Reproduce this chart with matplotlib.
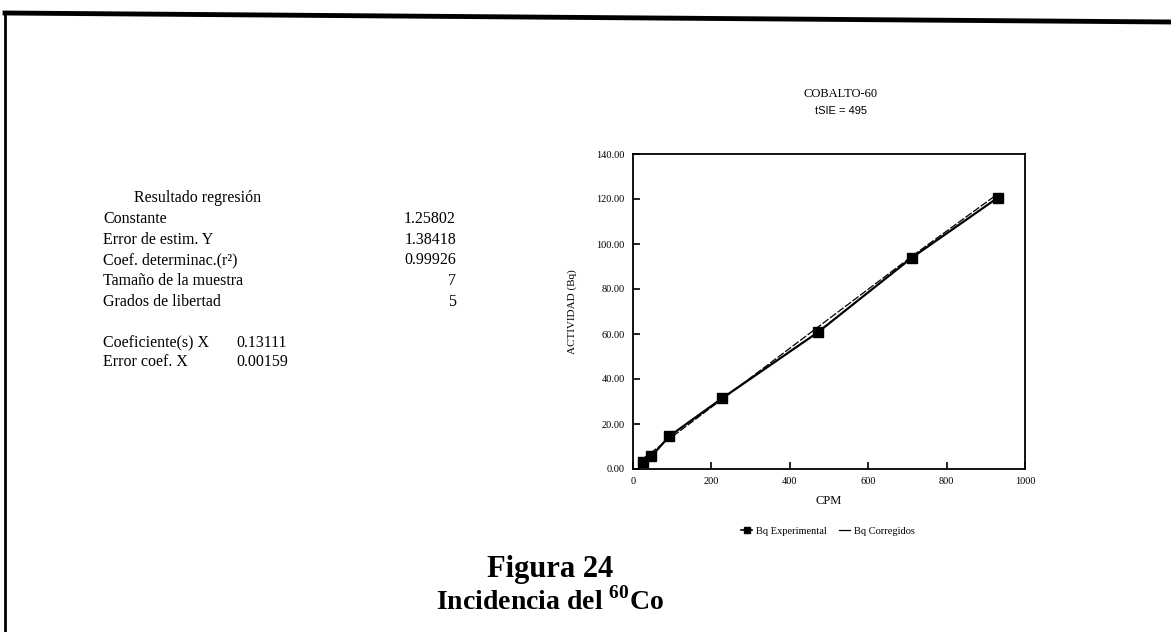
import matplotlib
matplotlib.use("Agg")
import matplotlib.pyplot as plt
from matplotlib.lines import Line2D

plt.rcParams["mathtext.fontset"] = "custom"
plt.rcParams["mathtext.rm"] = "Liberation Serif"
plt.rcParams["mathtext.bf"] = "Liberation Serif:bold"

# ---- data ----
cpm = [25, 47, 92, 228, 472, 712, 930]
bq_experimental = [3.2, 5.6, 14.5, 31.5, 60.8, 94.0, 120.5]
bq_corregidos = [4.5, 7.4, 13.3, 31.1, 63.1, 94.6, 122.2]
x_ticks = [0, 200, 400, 600, 800, 1000]
y_ticks = [0, 20, 40, 60, 80, 100, 120, 140]

reg_labels = ["Constante", "Error de estim. Y", "Coef. determinac.(r²)",
              "Tamaño de la muestra", "Grados de libertad"]
reg_values = ["1.25802", "1.38418", "0.99926", "7", "5"]
coef_labels = ["Coeficiente(s) X", "Error coef. X"]
coef_values = ["0.13111", "0.00159"]

W, H = 1171, 632
fig = plt.figure(figsize=(W / 100, H / 100), dpi=100)
serif = "Liberation Serif"
sans = "Liberation Sans"

def fx(px):
    return px / W

def fy(py):
    return 1 - py / H

# page frame lines
fig.add_artist(Line2D([fx(5), fx(5)], [fy(12), fy(632)], color="black", lw=2))
fig.add_artist(Line2D([fx(5), fx(1171)], [fy(13), fy(22)], color="black", lw=3.5))

ax = fig.add_axes([fx(633), fy(469), fx(1025) - fx(633), fy(154) - fy(469)])
ax.plot(cpm, bq_corregidos, color="black", lw=0.9, ls=(0, (6, 1.5)), zorder=2)
ax.plot(cpm, bq_experimental, color="black", lw=1.6, marker="s", ms=6.5, zorder=3)
ax.set_xlim(0, 1000)
ax.set_ylim(0, 140)
ax.set_xticks(x_ticks)
ax.set_yticks(y_ticks)
ax.set_xticklabels([str(v) for v in x_ticks], fontfamily=serif, fontsize=7.5)
ax.set_yticklabels([f"{v:.2f}" for v in y_ticks], fontfamily=serif, fontsize=7.5)
ax.tick_params(direction="in", length=5, width=1.2, pad=6)
for s in ax.spines.values():
    s.set_linewidth(1.3)
ax.set_xlabel("CPM", fontfamily=serif, fontsize=9, labelpad=6)
ax.set_ylabel("ACTIVIDAD (Bq)", fontfamily=serif, fontsize=8, labelpad=14)

fig.text(fx(841), fy(94), "COBALTO-60", ha="center", va="center", fontfamily=serif, fontsize=9)
fig.text(fx(841), fy(111), "tSIE = 495", ha="center", va="center", fontfamily=sans, fontsize=8)

# legend
leg_handles = [
    Line2D([], [], color="black", marker="s", ms=5, lw=1.2),
    Line2D([], [], color="black", lw=0.9),
]
fig.legend(leg_handles, ["Bq Experimental", "Bq Corregidos"], loc="center",
           bbox_to_anchor=(fx(828), fy(531)), ncol=2, frameon=False,
           prop={"family": serif, "size": 7.5}, handlelength=1.0,
           handletextpad=0.4, columnspacing=1.2, markerscale=1)

# regression results
fs = 11.5
fig.text(fx(198), fy(198), "Resultado regresión", ha="center", va="center",
         fontfamily=serif, fontsize=fs)
ys = [219, 240, 260, 281, 302]
for lab, val, y in zip(reg_labels, reg_values, ys):
    fig.text(fx(103), fy(y), lab, ha="left", va="center", fontfamily=serif, fontsize=fs)
    fig.text(fx(456), fy(y), val, ha="right", va="center", fontfamily=serif, fontsize=fs)
for lab, val, y in zip(coef_labels, coef_values, [343, 362]):
    fig.text(fx(103), fy(y), lab, ha="left", va="center", fontfamily=serif, fontsize=fs)
    fig.text(fx(236), fy(y), val, ha="left", va="center", fontfamily=serif, fontsize=fs)

fig.text(fx(550), fy(569), "Figura 24", ha="center", va="center",
         fontfamily=serif, fontweight="bold", fontsize=22)
fig.text(fx(550), fy(601), r"Incidencia del $^{\mathbf{60}}$Co", ha="center", va="center",
         fontfamily=serif, fontweight="bold", fontsize=20)

fig.savefig("out.png", dpi=100, facecolor="white")
